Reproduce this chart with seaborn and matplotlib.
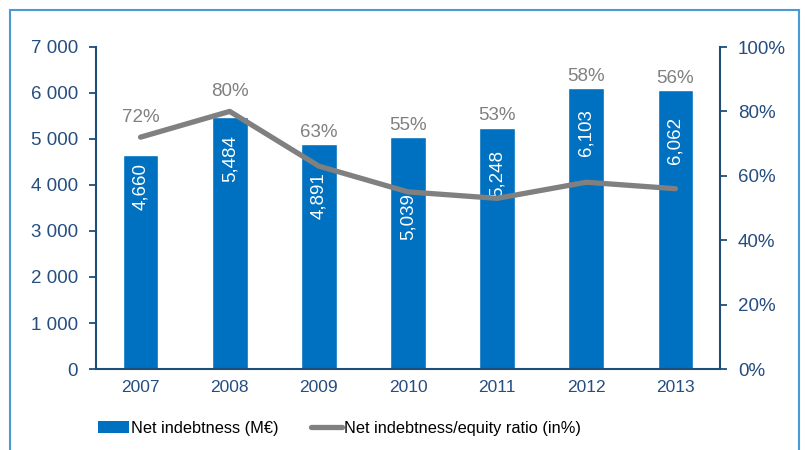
import matplotlib
matplotlib.use("Agg")
import matplotlib.pyplot as plt
import seaborn as sns
import numpy as np
import pandas as pd
from matplotlib.patches import Patch
from matplotlib.lines import Line2D
from matplotlib.ticker import FuncFormatter, MultipleLocator

years = ["2007", "2008", "2009", "2010", "2011", "2012", "2013"]
net_debt = [4660, 5484, 4891, 5039, 5248, 6103, 6062]
ratio = [72, 80, 63, 55, 53, 58, 56]
bar_labels = ["4,660", "5,484", "4,891", "5,039", "5,248", "6,103", "6,062"]
pct_labels = ["72%", "80%", "63%", "55%", "53%", "58%", "56%"]

# layout: distance (in points) of each bar label's centre below the bar top
label_drop = [23, 30, 37, 57, 33, 32, 36]

BLUE = "#0070C0"
GREY = "#808080"
AXBLUE = "#1F4E79"
TICKC = "#254D80"

sns.set_theme(style="white")
plt.rcParams["font.family"] = ["Liberation Sans", "DejaVu Sans"]

fig = plt.figure(figsize=(8.05, 4.5), dpi=100)
ax = fig.add_axes([96/805, 1-369/450, (720-96)/805, (369-47)/450])

df = pd.DataFrame({"year": years, "debt": net_debt, "ratio": ratio})
sns.barplot(data=df, x="year", y="debt", color=BLUE, saturation=1, width=0.4, ax=ax)
ax.set_ylim(0, 7000)
ax.set_xlim(-0.5, 6.5)
ax.yaxis.set_major_locator(MultipleLocator(1000))
ax.yaxis.set_major_formatter(FuncFormatter(lambda v, p: f"{int(v):,}".replace(",", " ")))
ax.set_xlabel("")
ax.set_ylabel("")

for i, (v, lab, dr) in enumerate(zip(net_debt, bar_labels, label_drop)):
    ax.annotate(lab, xy=(i, v), xytext=(0, -dr), textcoords="offset points",
                rotation=90, ha="center", va="center", color="white", fontsize=13.5)

ax2 = ax.twinx()
sns.lineplot(x=np.arange(len(years)), y=ratio, color=GREY, linewidth=3.8, ax=ax2)
ax2.set_ylim(0, 100)
ax2.yaxis.set_major_locator(MultipleLocator(20))
ax2.yaxis.set_major_formatter(FuncFormatter(lambda v, p: f"{int(v)}%"))
ax2.set_xlim(-0.5, 6.5)

for a in (ax, ax2):
    a.spines["top"].set_visible(False)
    for s in ["left", "right", "bottom"]:
        a.spines[s].set_color(AXBLUE)
        a.spines[s].set_linewidth(1.5)
    a.grid(False)

ax.spines["right"].set_visible(False)
ax2.spines["left"].set_visible(False)
ax2.spines["bottom"].set_visible(False)

ax.tick_params(axis="y", which="major", direction="out", length=5, width=1.3,
               color=AXBLUE, labelcolor=TICKC, labelsize=13.5, pad=8, left=True)
ax.tick_params(axis="x", length=0, labelcolor=TICKC, labelsize=12.5, pad=8)
ax2.tick_params(axis="y", which="major", direction="out", length=5, width=1.3,
                color=AXBLUE, labelcolor=TICKC, labelsize=13.5, pad=8, right=True)

for i, (v, d, lab) in enumerate(zip(ratio, net_debt, pct_labels)):
    bar_pct = d / 7000 * 100
    if v >= bar_pct:
        y, off = v, 8
    else:
        y, off = bar_pct, 2.5
    ax2.annotate(lab, xy=(i, y), xytext=(0, off), textcoords="offset points",
                 ha="center", va="bottom", color=GREY, fontsize=13.5)

handles = [Patch(facecolor=BLUE, edgecolor="none"),
           Line2D([0], [0], color=GREY, linewidth=3.8)]
leg = fig.legend(handles, ["Net indebtness (M€)", "Net indebtness/equity ratio (in%)"],
                 loc="center left", bbox_to_anchor=(98/805, 1-428/450), ncol=2,
                 frameon=False, fontsize=11.8, handlelength=1.9, handletextpad=0.1,
                 columnspacing=2.0, borderaxespad=0, borderpad=0)
for t in leg.get_texts():
    t.set_color("black")

FRAME = "#4A9AD8"
fig.add_artist(Line2D([10/805, 10/805], [0, 1-10/450], color=FRAME, linewidth=1.5))
fig.add_artist(Line2D([10/805, 799/805], [1-10/450, 1-10/450], color=FRAME, linewidth=1.5))
fig.add_artist(Line2D([799/805, 799/805], [0, 1-10/450], color=FRAME, linewidth=1.5))

fig.savefig("out.png", dpi=100)
